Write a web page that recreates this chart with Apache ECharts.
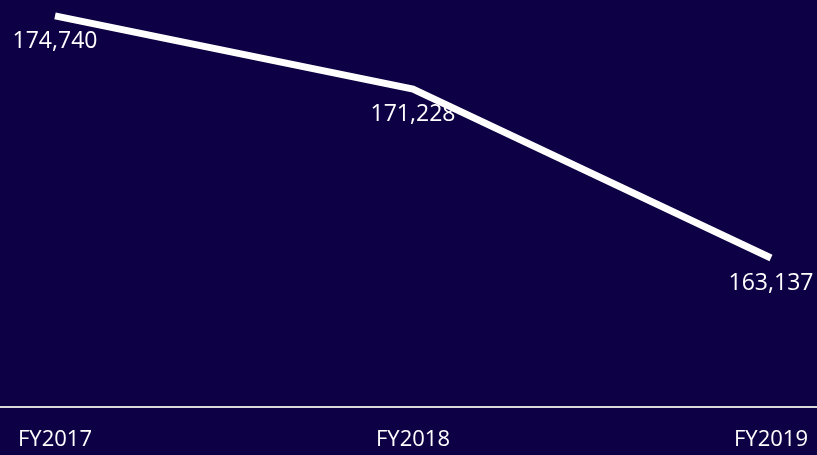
<!DOCTYPE html>
<html>
<head>
<meta charset="utf-8">
<script src="https://cdn.jsdelivr.net/npm/echarts@6/dist/echarts.min.js"></script>
<style>
  html, body { margin: 0; padding: 0; background: #0e0044; }
  #main { width: 817px; height: 455px; }
</style>
</head>
<body>
<div id="main"></div>
<script>
const years = ['FY2017', 'FY2018', 'FY2019'];
const values = [174740, 171228, 163137];

const chart = echarts.init(document.getElementById('main'));

// grid 0 holds the line, grid 1 only draws the full-width axis line
const option = {
    backgroundColor: '#0e0044',
    animation: false,
    grid: [
        { left: 55, right: 46, top: 0, bottom: 48 },
        { left: 0, right: 0, top: 0, bottom: 48 }
    ],
    xAxis: [{
        type: 'category',
        gridIndex: 0,
        data: years,
        boundaryGap: false,
        axisLine: { show: false },
        axisTick: { show: false },
        axisLabel: {
            color: '#ffffff',
            fontFamily: 'Open Sans',
            fontSize: 22,
            margin: 22
        }
    }, {
        type: 'category',
        gridIndex: 1,
        data: years,
        axisLine: {
            lineStyle: { color: '#d9d9d9', width: 2 }
        },
        axisTick: { show: false },
        axisLabel: { show: false }
    }],
    yAxis: [{
        type: 'value',
        gridIndex: 0,
        min: 156000,
        max: 175500,
        show: false,
        splitLine: { show: false }
    }, {
        type: 'value',
        gridIndex: 1,
        min: 0,
        max: 1,
        show: false,
        splitLine: { show: false }
    }],
    series: [{
        type: 'line',
        xAxisIndex: 0,
        yAxisIndex: 0,
        data: values,
        symbol: 'circle',
        symbolSize: 0,
        lineStyle: { color: '#ffffff', width: 7, join: 'miter' },
        itemStyle: { color: '#ffffff' },
        label: {
            show: true,
            position: 'bottom',
            distance: 14,
            color: '#ffffff',
            fontFamily: 'Open Sans',
            fontSize: 23,
            formatter: p => p.value.toLocaleString('en-US')
        }
    }]
};

chart.setOption(option);
</script>
</body>
</html>
